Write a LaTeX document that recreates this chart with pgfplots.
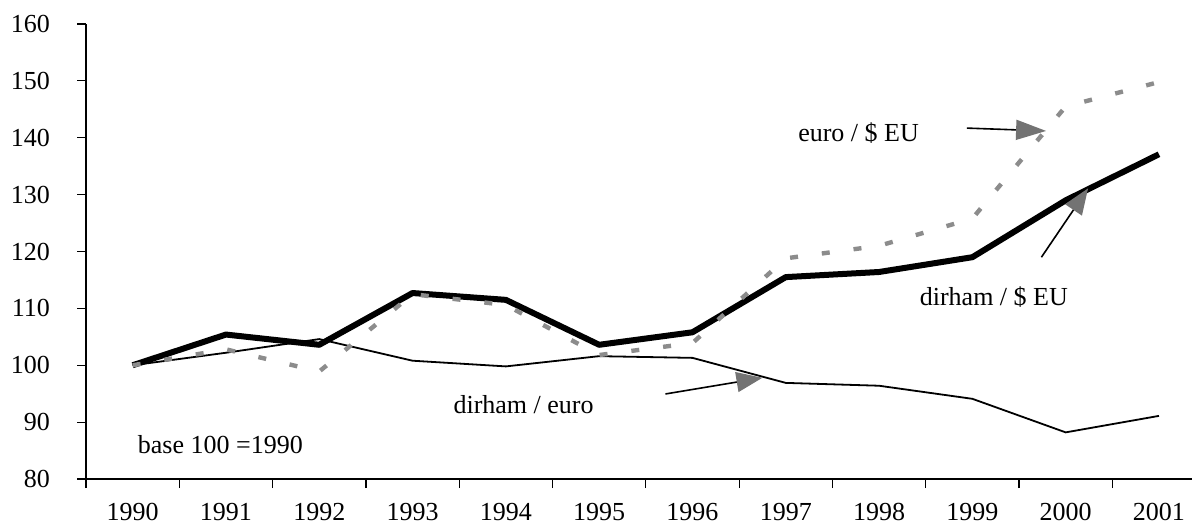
\documentclass[border=0pt]{standalone}
\usepackage{pgfplots}
\pgfplotsset{compat=1.18}
\usepackage{pgfplotstable}
\usepackage{fontspec}
\setmainfont{Liberation Serif}
\usetikzlibrary{arrows.meta}
\pgfplotstableread{
x year usd euro eurousd
0 1990 100.0 100.0 100.0
1 1991 105.4 102.2 102.8
2 1992 103.6 104.6 98.9
3 1993 112.7 100.8 112.5
4 1994 111.5 99.8 110.6
5 1995 103.6 101.6 101.8
6 1996 105.8 101.3 103.9
7 1997 115.5 96.9 118.8
8 1998 116.4 96.4 121.0
9 1999 119.0 94.1 125.8
10 2000 129.0 88.2 145.5
11 2001 137.1 91.1 149.8
}\datatable
\begin{document}
\begin{tikzpicture}
\begin{axis}[
  at={(0,0)}, anchor=south west,
  scale only axis, width=553pt, height=227.5pt,
  xmin=-0.5, xmax=11.354, ymin=80, ymax=160,
  axis x line=bottom, axis y line=left,
  axis line style={-, black, line width=0.6pt},
  tick style={black, line width=0.6pt},
  tick align=outside,
  major tick length=4.5pt,
  xtick={-0.5,0.5,...,10.5}, xticklabels={},
  extra x ticks={0,1,...,11},
  extra x tick labels={1990,1991,1992,1993,1994,1995,1996,1997,1998,1999,2000,2001},
  extra x tick style={major tick length=0pt},
  ytick={80,90,...,160},
  /pgf/number format/assume math mode=true,
  ticklabel style={font=\fontsize{13}{15}\selectfont},
  xticklabel style={yshift=-8.5pt},
  yticklabel style={xshift=-10pt},
  clip=false,
]
\addplot[black, line width=3pt, line join=round] table[x=x, y=usd] {\datatable};
\addplot[black, line width=0.9pt] table[x=x, y=euro] {\datatable};
\addplot[black!45, line width=2.2pt, dash pattern={on 4pt off 12pt}] table[x=x, y=eurousd] {\datatable};
\node[font=\fontsize{13}{15}\selectfont] at (axis cs:7.78,140.8) {euro / \$ EU};
\draw[line width=0.8pt, -{Triangle[length=15pt,width=10pt,color=black!55]}] (axis cs:8.94,141.7) -- (axis cs:9.79,141.2);
\node[font=\fontsize{13}{15}\selectfont] at (axis cs:9.23,112.0) {dirham / \$ EU};
\draw[line width=0.8pt, -{Triangle[length=13pt,width=10pt,color=black!55]}] (axis cs:9.74,119.0) -- (axis cs:10.24,131.1);
\node[font=\fontsize{13}{15}\selectfont] at (axis cs:4.19,93.0) {dirham / euro};
\draw[line width=0.8pt, -{Triangle[length=13pt,width=10pt,color=black!55]}] (axis cs:5.71,94.95) -- (axis cs:6.75,97.8);
\node[font=\fontsize{13}{15}\selectfont] at (axis cs:0.94,86.0) {base 100 =1990};
\end{axis}
\pgfresetboundingbox
\path[use as bounding box] (-43pt,-23.5pt) rectangle (553pt,239.5pt);
\end{tikzpicture}
\end{document}
